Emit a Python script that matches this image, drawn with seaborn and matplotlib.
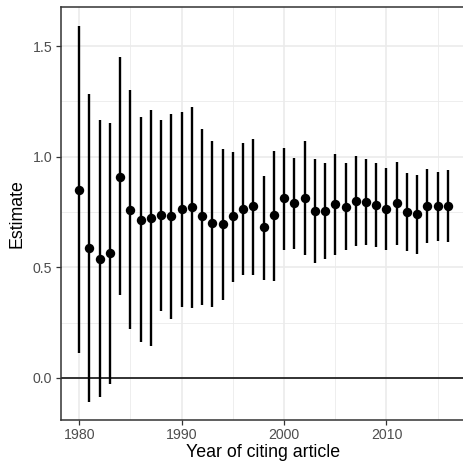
import numpy as np
import pandas as pd
import matplotlib
matplotlib.use("Agg")
import matplotlib.pyplot as plt
from matplotlib.ticker import FixedLocator
import seaborn as sns

# Yearly coefficient estimates with confidence bounds
years = list(range(1980, 2017))
estimate = [0.849, 0.589, 0.537, 0.564, 0.910, 0.760, 0.714, 0.723, 0.736, 0.733,
            0.764, 0.771, 0.730, 0.699, 0.696, 0.732, 0.765, 0.776, 0.681, 0.735,
            0.812, 0.791, 0.813, 0.755, 0.756, 0.786, 0.774, 0.800, 0.797, 0.783,
            0.764, 0.791, 0.751, 0.739, 0.776, 0.776, 0.776]
lower = [0.111, -0.110, -0.089, -0.026, 0.373, 0.220, 0.164, 0.146, 0.303, 0.267,
         0.322, 0.316, 0.331, 0.322, 0.352, 0.435, 0.465, 0.465, 0.444, 0.438,
         0.580, 0.583, 0.556, 0.518, 0.538, 0.556, 0.578, 0.595, 0.602, 0.590,
         0.580, 0.601, 0.575, 0.560, 0.608, 0.619, 0.613]
upper = [1.590, 1.286, 1.167, 1.151, 1.449, 1.301, 1.178, 1.212, 1.167, 1.194,
         1.202, 1.226, 1.127, 1.070, 1.034, 1.023, 1.061, 1.082, 0.915, 1.028,
         1.041, 0.994, 1.069, 0.988, 0.971, 1.011, 0.970, 1.003, 0.989, 0.971,
         0.947, 0.976, 0.928, 0.917, 0.943, 0.932, 0.938]

x_ticks = [1980, 1990, 2000, 2010]
x_minor = [1985, 1995, 2005, 2015]
y_ticks = [0.0, 0.5, 1.0, 1.5]
y_minor = [0.25, 0.75, 1.25]

df = pd.DataFrame({"year": years, "estimate": estimate,
                   "lower": lower, "upper": upper})

sns.set_theme(style="white")
plt.rcParams["font.family"] = ["Liberation Sans", "DejaVu Sans"]

fig = plt.figure(figsize=(4.64, 4.68), dpi=100)
ax = fig.add_axes([60.7 / 464, 48 / 468, (466.4 - 60.7) / 464, (420 - 7.3) / 468])

# grid (major and minor)
grid_col = "#EBEBEB"
for v in x_ticks:
    ax.axvline(v, color=grid_col, lw=1.2, zorder=0)
for v in x_minor:
    ax.axvline(v, color=grid_col, lw=0.6, zorder=0)
for v in y_ticks:
    ax.axhline(v, color=grid_col, lw=1.2, zorder=0)
for v in y_minor:
    ax.axhline(v, color=grid_col, lw=0.6, zorder=0)

ax.axhline(0, color="black", lw=1.1, zorder=1)

ax.vlines(df["year"], df["lower"], df["upper"], color="black", lw=1.7, zorder=2)
sns.scatterplot(data=df, x="year", y="estimate", color="black", s=46,
                edgecolor="black", linewidth=0, zorder=3, ax=ax)

ax.set_xlim(1978.2, 2017.8)
ax.set_ylim(-0.191, 1.676)
ax.xaxis.set_major_locator(FixedLocator(x_ticks))
ax.yaxis.set_major_locator(FixedLocator(y_ticks))
ax.set_xticklabels([str(t) for t in x_ticks])
ax.set_yticklabels([f"{t:.1f}" for t in y_ticks])

ax.tick_params(axis="both", which="major", length=3.5, width=0.9,
               color="#333333", labelcolor="#4D4D4D", labelsize=10.2, pad=2.5,
               bottom=True, left=True)
for sp in ax.spines.values():
    sp.set_color("#333333")
    sp.set_linewidth(1.1)

ax.set_xlabel("Year of citing article", fontsize=12.8, color="black", labelpad=1.5)
ax.set_ylabel("Estimate", fontsize=12.8, color="black", labelpad=5)

fig.savefig("out.png", dpi=100)
